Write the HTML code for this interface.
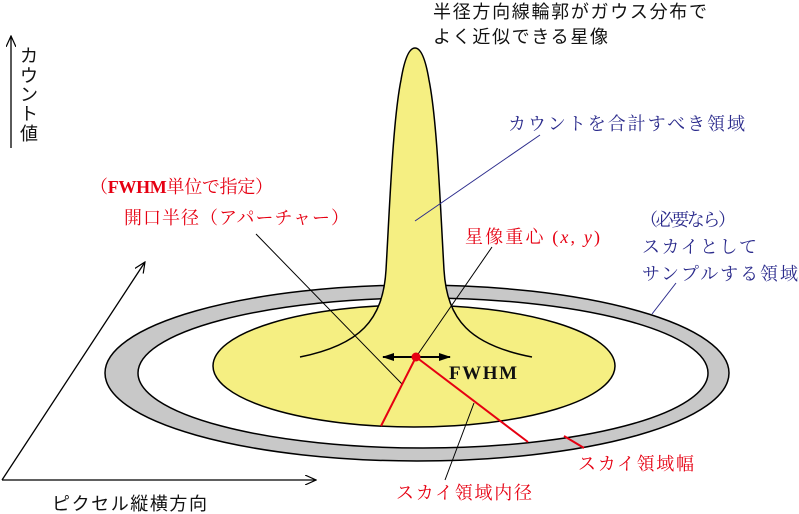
<!DOCTYPE html>
<html><head><meta charset="utf-8"><style>
html,body{margin:0;padding:0;background:#fff;}
svg{display:block;}
text{font-family:"Liberation Sans","Noto Sans CJK JP",sans-serif;font-size:18px;}
.r{fill:#e60012}.b{fill:#2b2b8c}.k{fill:#111}
.r,.b{font-family:"Liberation Serif","Noto Serif CJK SC",serif;}
.s{font-family:"Liberation Serif","Noto Serif CJK SC",serif;}
</style></head><body>
<svg width="799" height="514" viewBox="0 0 799 514" xmlns="http://www.w3.org/2000/svg">
<defs>
<marker id="oa" markerWidth="12" markerHeight="10" refX="11" refY="5" orient="auto" markerUnits="userSpaceOnUse">
<path d="M0,0 L11,5 L0,10" fill="none" stroke="#000" stroke-width="1.2"/></marker>
<marker id="fa" markerWidth="12" markerHeight="10" refX="11" refY="5" orient="auto" markerUnits="userSpaceOnUse">
<path d="M0,1 L12,5 L0,9 z" fill="#000"/></marker>
</defs>
<line x1="11" y1="148" x2="11" y2="36" stroke="#000" stroke-width="1.3" marker-end="url(#oa)"/>
<line x1="2" y1="480" x2="145" y2="262" stroke="#000" stroke-width="1.3" marker-end="url(#oa)"/>
<line x1="2" y1="480" x2="316" y2="480" stroke="#000" stroke-width="1.3" marker-end="url(#oa)"/>
<ellipse cx="417" cy="373" rx="312" ry="88" fill="#c8c8c8" stroke="#000" stroke-width="1.5"/>
<ellipse cx="423" cy="373" rx="285" ry="75" fill="#fff" stroke="#000" stroke-width="1.5"/>
<ellipse cx="414" cy="366" rx="201" ry="61" fill="#f5ef82" stroke="#000" stroke-width="1.5"/>
<path d="M300,357 C360,345 383,320 386,270 C390,200 393,120 401,80 C405,56 410,48 415,48 C420,48 425,56 429,80 C437,120 440,200 444,270 C447,320 470,345 532,357" fill="#f5ef82" stroke="none"/>
<path d="M300,357 C360,345 383,320 386,270 C390,200 393,120 401,80 C405,56 410,48 415,48 C420,48 425,56 429,80 C437,120 440,200 444,270 C447,320 470,345 532,357" fill="none" stroke="#000" stroke-width="1.5"/>
<line x1="256" y1="234" x2="402" y2="384" stroke="#000" stroke-width="1"/>
<line x1="492" y1="247" x2="416" y2="357" stroke="#000" stroke-width="1"/>
<line x1="445" y1="480" x2="474" y2="403" stroke="#000" stroke-width="1"/>
<line x1="540" y1="135" x2="415" y2="221" stroke="#2b2b8c" stroke-width="1"/>
<line x1="676" y1="283" x2="652" y2="314" stroke="#2b2b8c" stroke-width="1"/>
<line x1="416" y1="357" x2="381" y2="426" stroke="#e60012" stroke-width="2"/>
<line x1="416" y1="357" x2="528" y2="442" stroke="#e60012" stroke-width="2"/>
<line x1="564" y1="436" x2="584" y2="448" stroke="#e60012" stroke-width="2"/>
<line x1="416" y1="357" x2="383" y2="357" stroke="#000" stroke-width="2" marker-end="url(#fa)"/>
<line x1="416" y1="357" x2="450" y2="357" stroke="#000" stroke-width="2" marker-end="url(#fa)"/>
<circle cx="416" cy="357" r="4.5" fill="#e60012"/>
<text x="449" y="379" class="s k" style="font-weight:bold;font-size:19px" textLength="68">FWHM</text>
<text x="433" y="18" class="k" textLength="274">半径方向線輪郭がガウス分布で</text>
<text x="433" y="43" class="k" textLength="175">よく近似できる星像</text>
<g class="k" text-anchor="middle">
<text x="29" y="62">カ</text>
<text x="29" y="82">ウ</text>
<text x="29" y="101">ン</text>
<text x="29" y="120">ト</text>
<text x="29" y="140">値</text>
</g>
<text x="508" y="130" class="b" textLength="237">カウントを合計すべき領域</text>
<text x="90" y="193" class="r" textLength="183">（<tspan font-weight="bold">FWHM</tspan>単位で指定）</text>
<text x="124" y="224" class="r" textLength="225">開口半径（アパーチャー）</text>
<text x="465" y="243" class="r" textLength="135">星像重心 (<tspan font-style="italic">x</tspan>, <tspan font-style="italic">y</tspan>)</text>
<text x="640" y="226" class="b" textLength="96">（必要なら）</text>
<text x="642" y="253" class="b" textLength="115">スカイとして</text>
<text x="642" y="280" class="b" textLength="156">サンプルする領域</text>
<text x="578" y="470" class="r" textLength="116">スカイ領域幅</text>
<text x="396" y="499" class="r" textLength="136">スカイ領域内径</text>
<text x="52" y="510" class="k" textLength="155">ピクセル縦横方向</text>
</svg>
</body></html>
